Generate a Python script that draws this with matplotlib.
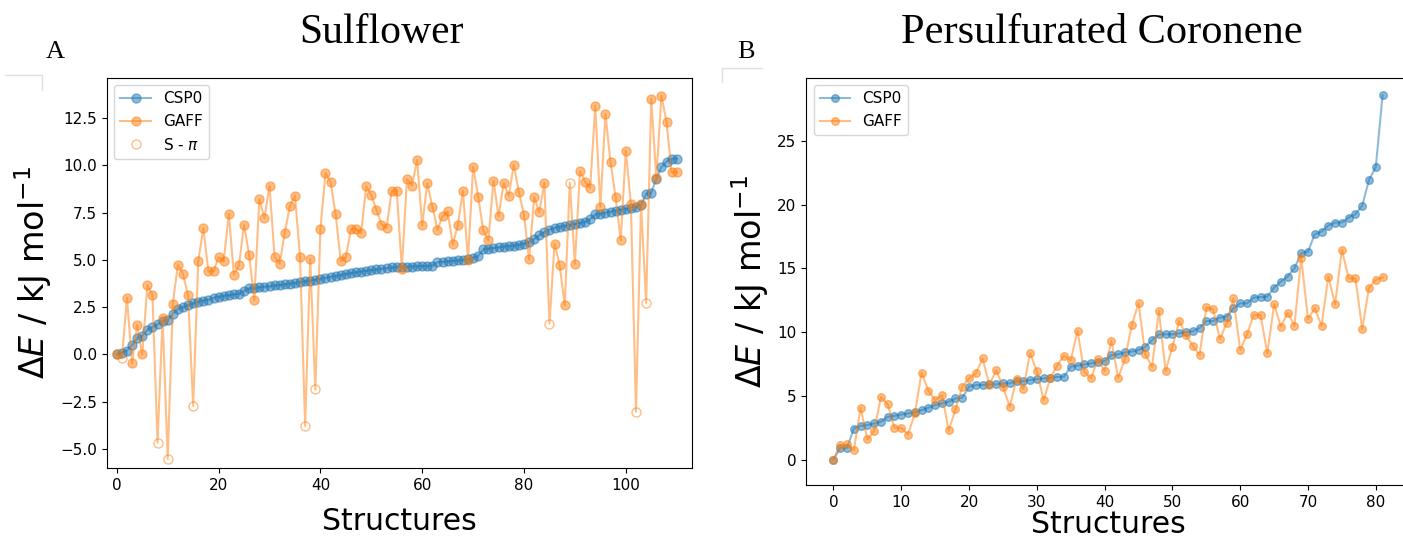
import matplotlib
matplotlib.use("Agg")
import matplotlib.pyplot as plt
import numpy as np

# ---------------- Sulflower data ----------------
sulf_csp0 = [0.0, 0.1, 0.2, 0.5, 0.85, 1.0, 1.3, 1.45, 1.6, 1.75,
             1.8, 2.15, 2.4, 2.5, 2.6, 2.7, 2.8, 2.85, 2.9, 3.0,
             3.05, 3.1, 3.13, 3.18, 3.2, 3.35, 3.5, 3.5, 3.55, 3.58,
             3.6, 3.65, 3.67, 3.7, 3.75, 3.78, 3.83, 3.86, 3.9, 3.95,
             4.0, 4.05, 4.1, 4.15, 4.2, 4.25, 4.3, 4.35, 4.38, 4.42,
             4.46, 4.5, 4.53, 4.56, 4.6, 4.62, 4.63, 4.64, 4.65, 4.66,
             4.67, 4.68, 4.7, 4.88, 4.9, 4.92, 4.95, 4.97, 5.0, 5.05,
             5.1, 5.2, 5.55, 5.6, 5.63, 5.66, 5.7, 5.73, 5.76, 5.8,
             5.85, 5.94, 6.1, 6.3, 6.45, 6.6, 6.7, 6.75, 6.8, 6.85,
             6.9, 6.95, 7.0, 7.15, 7.4, 7.45, 7.5, 7.55, 7.6, 7.65,
             7.7, 7.75, 7.8, 7.9, 8.5, 8.55, 9.3, 9.9, 10.2, 10.35,
             10.35]
sulf_gaff = [0.0, -0.21, 2.99, -0.47, 1.55, 0.0, 3.66, 3.16, -4.66, 1.93,
             -5.52, 2.69, 4.75, 4.27, 3.13, -2.72, 4.92, 6.68, 4.39, 4.39,
             5.15, 4.92, 7.43, 4.22, 4.71, 6.85, 5.27, 2.86, 8.22, 7.21,
             8.93, 5.15, 4.80, 6.43, 7.84, 8.40, 5.15, -3.78, 5.06, -1.85,
             6.61, 9.6, 9.1, 7.4, 4.94, 5.15, 6.64, 6.64, 6.43, 8.89,
             8.44, 7.65, 6.87, 6.70, 8.66, 8.66, 4.53, 9.28, 8.93, 10.28,
             6.82, 9.05, 7.82, 6.59, 7.31, 7.56, 5.82, 6.82, 8.66, 4.97,
             9.93, 8.35, 6.56, 6.03, 9.19, 7.31, 9.05, 8.40, 10.02, 8.58,
             7.38, 5.03, 8.31, 7.52, 9.07, 1.63, 5.85, 4.75, 2.60, 9.07,
             4.80, 9.68, 9.14, 8.79, 13.15, 7.79, 12.71, 10.16, 8.31, 6.03,
             10.77, 7.96, -3.02, 7.95, 2.72, 13.53, 9.31, 13.67, 12.30, 9.63,
             9.63]
# structures with an S - pi contact
s_pi_idx = [1, 8, 10, 15, 37, 39, 85, 89, 102, 104]

# ---------------- Persulfurated coronene data ----------------
cor_csp0 = [0.0, 0.92, 0.92, 2.43, 2.64, 2.70, 2.83, 2.96, 3.35, 3.43,
            3.53, 3.61, 3.69, 3.87, 4.06, 4.27, 4.40, 4.53, 4.79, 4.84,
            5.71, 5.84, 5.84, 5.89, 5.89, 5.97, 5.97, 6.15, 6.15, 6.23,
            6.31, 6.36, 6.41, 6.47, 6.49, 7.28, 7.36, 7.46, 7.54, 7.67,
            7.72, 8.19, 8.25, 8.40, 8.46, 8.59, 8.85, 9.37, 9.82, 9.82,
            9.82, 9.90, 10.0, 10.05, 10.31, 10.86, 10.86, 11.13, 11.2, 11.86,
            12.25, 12.25, 12.70, 12.75, 12.77, 13.48, 13.95, 14.35, 15.0, 16.18,
            16.31, 17.67, 17.88, 18.35, 18.59, 18.59, 18.98, 19.24, 19.92, 21.94,
            22.93, 28.56]
cor_gaff = [0.0, 1.13, 1.18, 0.73, 4.06, 1.57, 2.23, 4.92, 4.32, 2.49,
            2.49, 1.96, 3.61, 6.81, 5.39, 4.66, 5.05, 2.30, 3.93, 5.71,
            6.36, 6.75, 7.93, 5.84, 7.02, 5.71, 4.14, 6.31, 5.52, 8.32,
            6.94, 4.66, 6.41, 7.36, 8.14, 7.80, 10.08, 6.88, 6.36, 7.88,
            6.94, 9.32, 6.41, 7.88, 10.55, 12.25, 8.25, 7.28, 11.65, 6.94,
            8.85, 10.86, 9.76, 8.93, 8.19, 11.94, 11.78, 9.45, 10.68, 12.64,
            8.59, 9.82, 11.34, 11.34, 8.32, 12.17, 10.42, 11.52, 10.50, 15.84,
            11.02, 11.86, 10.50, 14.35, 12.17, 16.44, 14.21, 14.21, 10.24, 13.48,
            14.08, 14.29]

tick_fs = 11
xlabel_fs = 21.5
ylabel_fs = 24
W, H = 1403, 537

fig = plt.figure(figsize=(W / 100, H / 100), dpi=100)

# ---------------- A: Sulflower ----------------
ax1 = fig.add_axes([0.076, 1 - 468 / H, 0.4172, (468 - 77.7) / H])
x1 = np.arange(len(sulf_csp0))
normal_idx = [i for i in x1 if i not in s_pi_idx]
ax1.plot(x1, sulf_csp0, 'o-', color='C0', alpha=0.5, ms=6.5, label='CSP0')
ax1.plot(x1, sulf_gaff, 'o-', color='C1', alpha=0.5, ms=6.5,
         markevery=normal_idx, label='GAFF')
ax1.plot(np.array(s_pi_idx), np.array(sulf_gaff)[s_pi_idx], 'o', color='C1',
         mfc='none', alpha=0.5, ms=6.5, label=r'S - $\pi$')
ax1.set_xlim(-2, 113)
ax1.set_ylim(-6.0, 14.63)
ax1.set_xticks([0, 20, 40, 60, 80, 100])
ax1.tick_params(labelsize=tick_fs)
ax1.set_xlabel('Structures', fontsize=xlabel_fs, labelpad=10)
ax1.set_ylabel(r'$\Delta E$ / kJ mol$^{-1}$', fontsize=ylabel_fs)
ax1.legend(loc='upper left', fontsize=tick_fs)

# ---------------- B: Persulfurated coronene ----------------
ax2 = fig.add_axes([0.5745, 1 - 485 / H, 0.4305, (485 - 77.7) / H])
x2 = np.arange(len(cor_csp0))
ax2.plot(x2, cor_csp0, 'o-', color='C0', alpha=0.5, ms=5.5, label='CSP0')
ax2.plot(x2, cor_gaff, 'o-', color='C1', alpha=0.5, ms=5.5, label='GAFF')
ax2.set_xlim(-4.05, 85.05)
ax2.set_ylim(-2.0, 29.95)
ax2.set_xticks([0, 10, 20, 30, 40, 50, 60, 70, 80])
ax2.tick_params(labelsize=tick_fs)
ax2.set_xlabel('Structures', fontsize=xlabel_fs, labelpad=0)
ax2.set_ylabel(r'$\Delta E$ / kJ mol$^{-1}$', fontsize=ylabel_fs)
ax2.legend(loc='upper left', fontsize=tick_fs)

# titles and panel letters (serif, as in the paper figure)
serif = ['Liberation Serif', 'DejaVu Serif']
fig.text(382 / W, 1 - 33 / H, 'Sulflower', family=serif, fontsize=30,
         ha='center', va='center')
fig.text(1102 / W, 1 - 33 / H, 'Persulfurated Coronene', family=serif,
         fontsize=30.5, ha='center', va='center')
fig.text(55 / W, 1 - 52 / H, 'A', family=serif, fontsize=19,
         ha='center', va='center')
fig.text(746 / W, 1 - 52 / H, 'B', family=serif, fontsize=19,
         ha='center', va='center')

# faint leftover frame corners from the pasted panels
fig.add_artist(plt.Line2D([5 / W, 42 / W, 42 / W],
                          [1 - 75 / H, 1 - 75 / H, 1 - 90 / H],
                          color='#e0e0e0', lw=1))
fig.add_artist(plt.Line2D([722 / W, 722 / W, 762 / W],
                          [1 - 82 / H, 1 - 68 / H, 1 - 68 / H],
                          color='#e0e0e0', lw=1))

fig.savefig('out.png', dpi=100)
